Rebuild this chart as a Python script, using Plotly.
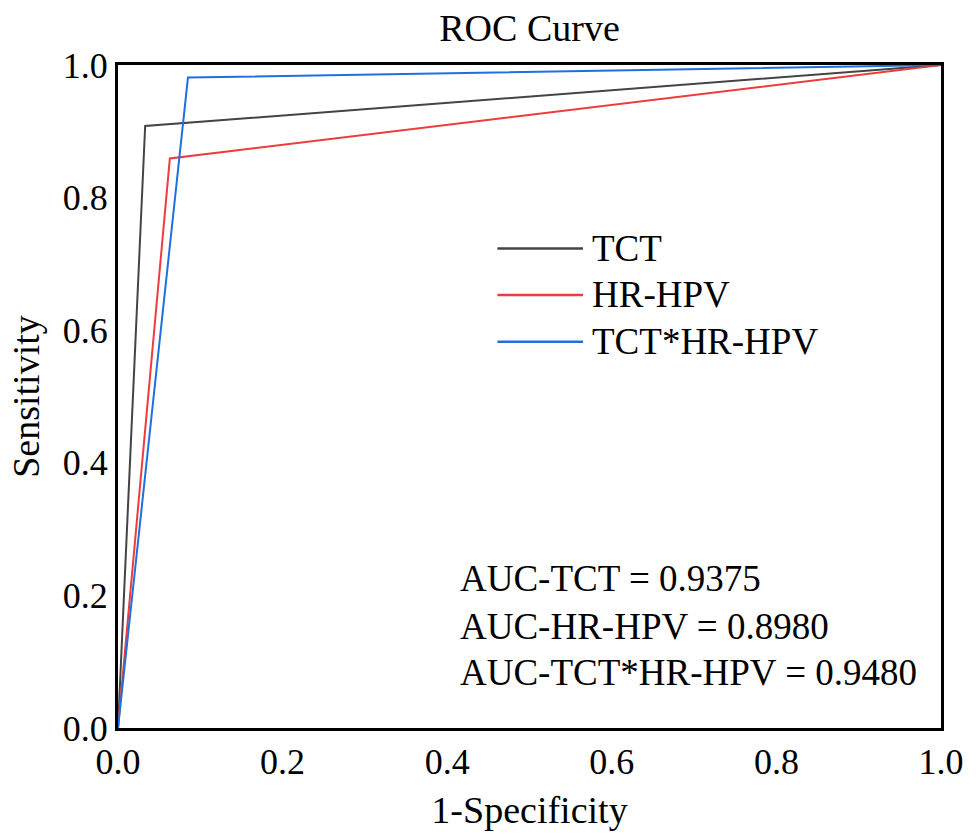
import plotly.graph_objects as go

names = ["TCT", "HR-HPV", "TCT*HR-HPV"]
fpr = {"TCT": [0.0, 0.033, 1.0], "HR-HPV": [0.0, 0.063, 1.0], "TCT*HR-HPV": [0.0, 0.085, 1.0]}
tpr = {"TCT": [0.0, 0.908, 1.0], "HR-HPV": [0.0, 0.859, 1.0], "TCT*HR-HPV": [0.0, 0.981, 1.0]}
colors = {"TCT": "#444444", "HR-HPV": "#ee3b3b", "TCT*HR-HPV": "#1f6fe0"}
auc_labels = ["AUC-TCT = 0.9375", "AUC-HR-HPV = 0.8980", "AUC-TCT*HR-HPV = 0.9480"]
ticks = [0.0, 0.2, 0.4, 0.6, 0.8, 1.0]
tick_text = ["0.0", "0.2", "0.4", "0.6", "0.8", "1.0"]

FONT = "Liberation Serif, Times New Roman, serif"

fig = go.Figure()
for n in names:
    fig.add_trace(go.Scatter(x=fpr[n], y=tpr[n], mode="lines", name=n,
                             line=dict(color=colors[n], width=2), showlegend=False))

# manual legend
leg_y = [0.7233, 0.6532, 0.5827]
for n, yy in zip(names, leg_y):
    fig.add_shape(type="line", xref="paper", yref="paper", x0=0.461, x1=0.565, y0=yy, y1=yy,
                  line=dict(color=colors[n], width=2.5))
    fig.add_annotation(xref="paper", yref="paper", x=0.574, y=yy, text=n, showarrow=False,
                       xanchor="left", yanchor="middle", font=dict(family=FONT, size=37, color="black"))

auc_y = [0.225, 0.1535, 0.0835]
for t, yy in zip(auc_labels, auc_y):
    fig.add_annotation(xref="paper", yref="paper", x=0.413, y=yy, text=t, showarrow=False,
                       xanchor="left", yanchor="middle", font=dict(family=FONT, size=37, color="black"))

axis_common = dict(range=[0, 1], tickvals=ticks, ticktext=tick_text, showgrid=False, zeroline=False,
                   showline=True, linecolor="black", linewidth=3, mirror=True, ticks="",
                   tickfont=dict(family=FONT, size=36, color="black"))
fig.update_xaxes(title=dict(text="1-Specificity", font=dict(family=FONT, size=38, color="black"), standoff=16),
                 **axis_common)
fig.update_yaxes(title=dict(text="Sensitivity", font=dict(family=FONT, size=38, color="black"), standoff=12),
                 **axis_common)

fig.update_layout(
    width=976, height=837, autosize=False,
    margin=dict(l=118, r=26, t=65, b=101),
    plot_bgcolor="white", paper_bgcolor="white",
    title=dict(text="ROC Curve", x=0.5, xref="paper", xanchor="center", y=0.9665, yanchor="middle",
               font=dict(family=FONT, size=38, color="black")),
)

fig.write_html(
    "out.html",
    config={"displayModeBar": False, "responsive": False},
    post_script=(
        "document.body.style.margin='0';"
        "document.body.style.overflow='hidden';"
        "document.documentElement.style.overflow='hidden';"
    ),
)
